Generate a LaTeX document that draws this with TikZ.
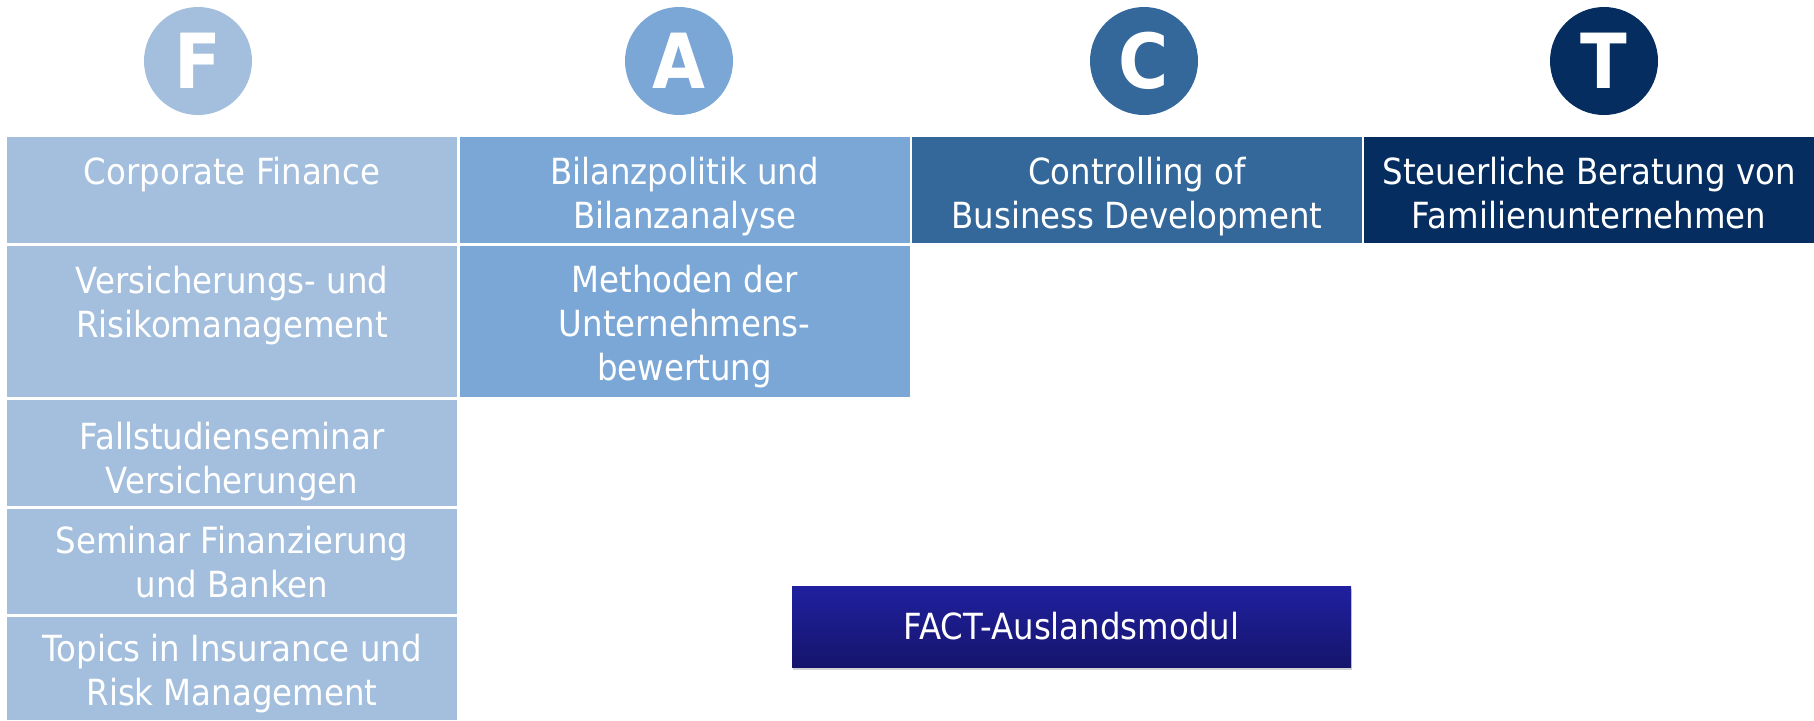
\documentclass[tikz,border=0pt]{standalone}
\usepackage{fontspec}
\setmainfont[FakeStretch=0.9]{DejaVu Sans}
\usepackage{tikz}
\usetikzlibrary{positioning}
\usetikzlibrary{shadows}
\definecolor{colF}{HTML}{A3BFDD}
\definecolor{colA}{HTML}{7BA7D7}
\definecolor{colC}{HTML}{35689A}
\definecolor{colT}{HTML}{052D60}
\definecolor{auslTop}{HTML}{2020A0}
\definecolor{auslBot}{HTML}{15156C}

\begin{document}
\begin{tikzpicture}
    [x=0.5pt, y=-0.5pt,
     letter/.style={circle, minimum size=54pt, inner sep=0, text=white,
       font=\fontsize{38}{40}\selectfont\bfseries},
     cell/.style={anchor=north west, minimum width=225pt, inner sep=0, outer sep=0},
     celltext/.style={align=center, inner sep=0, text=white,
       font=\fontsize{18}{22}\selectfont}]
    \useasboundingbox (0,0) rectangle (1814,720);

    % the four letters
    \node (F) [letter, fill=colF] at (198, 61) {F};
    \node (A) [letter, fill=colA] at (679, 61) {A};
    \node (C) [letter, fill=colC] at (1144, 61) {C};
    \node (T) [letter, fill=colT] at (1604, 61) {T};

    % first row
    \node (f1) [cell, fill=colF, minimum height=53pt] at (7, 137) {};
    \node (a1) [cell, fill=colA, minimum height=53pt] at (459.5, 137) {};
    \node (c1) [cell, fill=colC, minimum height=53pt] at (912, 137) {};
    \node (t1) [cell, fill=colT, minimum height=53pt] at (1364, 137) {};
    \node (f1t) [celltext, below=10pt of f1.north] {Corporate Finance};
    \node (a1t) [celltext, below=10pt of a1.north] {Bilanzpolitik und\\Bilanzanalyse};
    \node (c1t) [celltext, below=10pt of c1.north] {Controlling of\\Business Development};
    \node (t1t) [celltext, below=10pt of t1.north] {Steuerliche Beratung von\\Familienunternehmen};

    % second row
    \node (f2) [cell, fill=colF, minimum height=75.5pt] at (7, 246) {};
    \node (a2) [cell, fill=colA, minimum height=75.5pt] at (459.5, 246) {};
    \node (f2t) [celltext, below=10pt of f2.north] {Versicherungs- und\\Risikomanagement};
    \node (a2t) [celltext, below=9.5pt of a2.north] {Methoden der\\Unternehmens-\\bewertung};

    % rest of F
    \node (f3) [cell, fill=colF, minimum height=53pt] at (7, 400) {};
    \node (f4) [cell, fill=colF, minimum height=52.5pt] at (7, 509) {};
    \node (f5) [cell, fill=colF, minimum height=51.5pt] at (7, 617) {};
    \node (f3t) [celltext, below=11pt of f3.north] {Fallstudienseminar\\Versicherungen};
    \node (f4t) [celltext, below=8.5pt of f4.north] {Seminar Finanzierung\\und Banken};
    \node (f5t) [celltext, below=8.5pt of f5.north] {Topics in Insurance und\\Risk Management};

    \node (ausl) [top color=auslTop, bottom color=auslBot, text=white,
      minimum width=279.5pt, minimum height=40.5pt, inner sep=0,
      font=\fontsize{18}{22}\selectfont,
      drop shadow={shadow xshift=0.5pt, shadow yshift=-1.5pt, opacity=0.35}]
      at (1071.5, 626.5) {FACT-Auslandsmodul};
\end{tikzpicture}
\end{document}
